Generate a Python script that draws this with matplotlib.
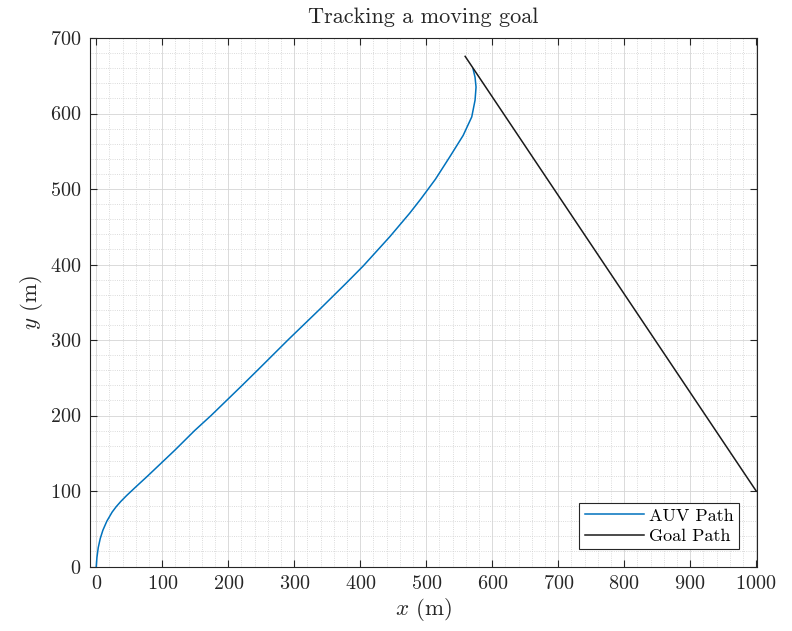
import numpy as np
import matplotlib
matplotlib.use("Agg")
import matplotlib.pyplot as plt
from matplotlib.ticker import MultipleLocator

# AUV path
auv_x = [0, 1, 3, 6, 10, 16, 24, 30, 37, 46, 60, 78, 98.5, 119, 149, 174, 197, 220, 245, 291, 339, 379,
         404.5, 445, 475, 492, 514, 536, 556, 569, 574, 575.5, 574, 571]
auv_y = [0, 12, 25, 37, 48, 60, 72, 79, 86, 94, 105.5, 120, 137, 154, 180, 200, 219.5, 239, 260.5, 300.5, 341, 375.5,
         398, 437, 468, 487, 513, 543, 571, 595.5, 617.6, 635, 648, 659]

# goal path (straight line)
goal_x = [1000, 800, 559]
goal_y = [100, 361, 675.7]

xticks = np.arange(0, 1001, 100)
yticks = np.arange(0, 701, 100)

plt.rcParams['font.family'] = 'serif'
plt.rcParams['font.serif'] = ['cmr10', 'DejaVu Serif']
plt.rcParams['mathtext.fontset'] = 'cm'
plt.rcParams['axes.formatter.use_mathtext'] = True

fig = plt.figure(figsize=(7.92, 6.31), dpi=100)
ax = fig.add_axes([90/792, 1-566.5/631, (756.5-90)/792, (566.5-38)/631])

ax.plot(auv_x, auv_y, color='#0072BD', linewidth=1.1, label='AUV Path')
ax.plot(goal_x, goal_y, color='#1a1a1a', linewidth=1.1, label='Goal Path')

ax.set_xlim(-9.5, 1000.5)
ax.set_ylim(0, 700)
ax.set_xticks(xticks)
ax.set_yticks(yticks)
ax.xaxis.set_minor_locator(MultipleLocator(20))
ax.yaxis.set_minor_locator(MultipleLocator(20))
ax.grid(which='major', color='#d4d4d4', linestyle='-', linewidth=0.6)
ax.grid(which='minor', color='#cfcfcf', linestyle=':', linewidth=0.6)
ax.set_axisbelow(True)
ax.tick_params(which='major', direction='in', top=True, right=True, length=5,
               width=0.8, labelsize=14.5, color='#262626', labelcolor='#262626', pad=6)
ax.tick_params(which='minor', length=0)
for s in ax.spines.values():
    s.set_linewidth(0.8)
    s.set_color('#262626')

ax.set_title('Tracking a moving goal', fontsize=16, pad=11, color='#262626')
ax.set_xlabel(r'$x$ (m)', fontsize=16.5, color='#262626', labelpad=2)
ax.set_ylabel(r'$y$ (m)', fontsize=16.5, color='#262626', labelpad=4)

leg = ax.legend(loc='lower right', fontsize=13, fancybox=False, framealpha=1,
                edgecolor='#262626', borderpad=0.3, handlelength=3.3,
                handletextpad=0.28, labelspacing=0.25, borderaxespad=0.95)
leg.get_frame().set_linewidth(0.8)

fig.savefig('out.png', dpi=100)
